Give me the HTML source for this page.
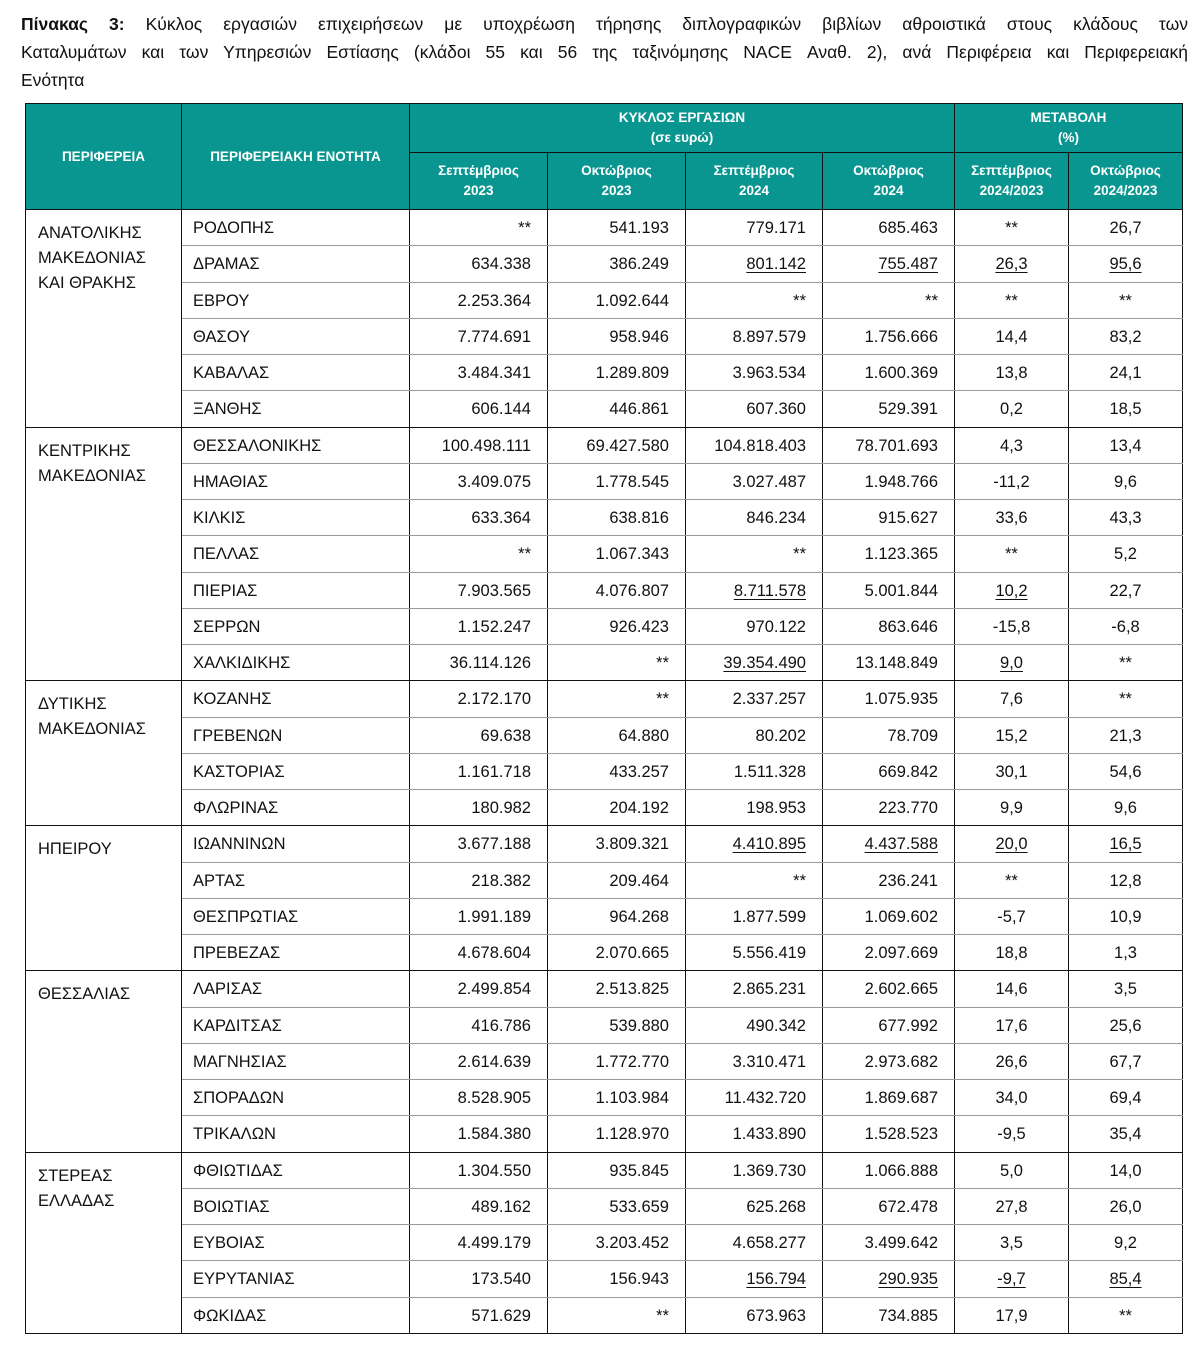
<!DOCTYPE html>
<html><head><meta charset="utf-8">
<style>
body{margin:0;background:#fff;width:1200px;height:1350px;overflow:hidden;font-family:"Liberation Sans","DejaVu Sans",sans-serif;color:#111;}
.title{position:absolute;left:21px;top:10px;width:1167px;font-size:17.5px;line-height:28px;}
.title div{text-align:justify;text-align-last:justify;white-space:nowrap;overflow:visible}
.title div.last{text-align-last:left}
table{position:absolute;left:25px;top:103px;border-collapse:collapse;table-layout:fixed;font-size:16.5px;}
th{background:#0a9690;color:#fff;font-size:13.5px;font-weight:bold;border:1.5px solid #111;padding:0;line-height:20px;}
td{border-left:1.5px solid #111;border-right:1.5px solid #111;border-top:1.5px solid #9a9a9a;border-bottom:1.5px solid #9a9a9a;padding:2px 0 0 0;height:32px;white-space:nowrap;}
td.reg{vertical-align:top;padding:11px 0 0 12px;line-height:25px;white-space:nowrap;border-top:1.5px solid #111;border-bottom:1.5px solid #111;}
td.name{padding-left:11px;}
td.n{text-align:right;padding-right:16px;}
td.p{text-align:center;}
tr.first td{border-top:1.5px solid #111;}
tr.lastrow td{border-bottom:1.5px solid #111;}
u{text-underline-offset:3px}
</style></head><body>
<div class="title">
<div><b>Πίνακας 3:</b> Κύκλος εργασιών επιχειρήσεων με υποχρέωση τήρησης διπλογραφικών βιβλίων αθροιστικά στους κλάδους των</div>
<div>Καταλυμάτων και των Υπηρεσιών Εστίασης (κλάδοι 55 και 56 της ταξινόμησης NACE Αναθ. 2), ανά Περιφέρεια και Περιφερειακή</div>
<div class="last">Ενότητα</div>
</div>
<table id="tbl">
<colgroup><col style="width:156px"><col style="width:228px"><col style="width:138px"><col style="width:138px"><col style="width:137px"><col style="width:132px"><col style="width:114px"><col style="width:114px"></colgroup>
<thead>
<tr style="height:49px">
<th rowspan="2">ΠΕΡΙΦΕΡΕΙΑ</th>
<th rowspan="2">ΠΕΡΙΦΕΡΕΙΑΚΗ ΕΝΟΤΗΤΑ</th>
<th colspan="4">ΚΥΚΛΟΣ ΕΡΓΑΣΙΩΝ<br>(σε ευρώ)</th>
<th colspan="2">ΜΕΤΑΒΟΛΗ<br>(%)</th>
</tr>
<tr style="height:57px">
<th>Σεπτέμβριος<br>2023</th>
<th>Οκτώβριος<br>2023</th>
<th>Σεπτέμβριος<br>2024</th>
<th>Οκτώβριος<br>2024</th>
<th>Σεπτέμβριος<br>2024/2023</th>
<th>Οκτώβριος<br>2024/2023</th>
</tr>
</thead>
<tbody id="tb"></tbody>
</table>
<script>
const regions=[["ΑΝΑΤΟΛΙΚΗΣ|ΜΑΚΕΔΟΝΙΑΣ|ΚΑΙ ΘΡΑΚΗΣ",6],["ΚΕΝΤΡΙΚΗΣ|ΜΑΚΕΔΟΝΙΑΣ",7],["ΔΥΤΙΚΗΣ|ΜΑΚΕΔΟΝΙΑΣ",4],["ΗΠΕΙΡΟΥ",4],["ΘΕΣΣΑΛΙΑΣ",5],["ΣΤΕΡΕΑΣ|ΕΛΛΑΔΑΣ",5]];
const units=["ΡΟΔΟΠΗΣ","ΔΡΑΜΑΣ","ΕΒΡΟΥ","ΘΑΣΟΥ","ΚΑΒΑΛΑΣ","ΞΑΝΘΗΣ","ΘΕΣΣΑΛΟΝΙΚΗΣ","ΗΜΑΘΙΑΣ","ΚΙΛΚΙΣ","ΠΕΛΛΑΣ","ΠΙΕΡΙΑΣ","ΣΕΡΡΩΝ","ΧΑΛΚΙΔΙΚΗΣ","ΚΟΖΑΝΗΣ","ΓΡΕΒΕΝΩΝ","ΚΑΣΤΟΡΙΑΣ","ΦΛΩΡΙΝΑΣ","ΙΩΑΝΝΙΝΩΝ","ΑΡΤΑΣ","ΘΕΣΠΡΩΤΙΑΣ","ΠΡΕΒΕΖΑΣ","ΛΑΡΙΣΑΣ","ΚΑΡΔΙΤΣΑΣ","ΜΑΓΝΗΣΙΑΣ","ΣΠΟΡΑΔΩΝ","ΤΡΙΚΑΛΩΝ","ΦΘΙΩΤΙΔΑΣ","ΒΟΙΩΤΙΑΣ","ΕΥΒΟΙΑΣ","ΕΥΡΥΤΑΝΙΑΣ","ΦΩΚΙΔΑΣ"];
const sep2023=["**","634.338","2.253.364","7.774.691","3.484.341","606.144","100.498.111","3.409.075","633.364","**","7.903.565","1.152.247","36.114.126","2.172.170","69.638","1.161.718","180.982","3.677.188","218.382","1.991.189","4.678.604","2.499.854","416.786","2.614.639","8.528.905","1.584.380","1.304.550","489.162","4.499.179","173.540","571.629"];
const oct2023=["541.193","386.249","1.092.644","958.946","1.289.809","446.861","69.427.580","1.778.545","638.816","1.067.343","4.076.807","926.423","**","**","64.880","433.257","204.192","3.809.321","209.464","964.268","2.070.665","2.513.825","539.880","1.772.770","1.103.984","1.128.970","935.845","533.659","3.203.452","156.943","**"];
const sep2024=["779.171","_801.142","**","8.897.579","3.963.534","607.360","104.818.403","3.027.487","846.234","**","_8.711.578","970.122","_39.354.490","2.337.257","80.202","1.511.328","198.953","_4.410.895","**","1.877.599","5.556.419","2.865.231","490.342","3.310.471","11.432.720","1.433.890","1.369.730","625.268","4.658.277","_156.794","673.963"];
const oct2024=["685.463","_755.487","**","1.756.666","1.600.369","529.391","78.701.693","1.948.766","915.627","1.123.365","5.001.844","863.646","13.148.849","1.075.935","78.709","669.842","223.770","_4.437.588","236.241","1.069.602","2.097.669","2.602.665","677.992","2.973.682","1.869.687","1.528.523","1.066.888","672.478","3.499.642","_290.935","734.885"];
const chgSep=["**","_26,3","**","14,4","13,8","0,2","4,3","-11,2","33,6","**","_10,2","-15,8","_9,0","7,6","15,2","30,1","9,9","_20,0","**","-5,7","18,8","14,6","17,6","26,6","34,0","-9,5","5,0","27,8","3,5","_-9,7","17,9"];
const chgOct=["26,7","_95,6","**","83,2","24,1","18,5","13,4","9,6","43,3","5,2","22,7","-6,8","**","**","21,3","54,6","9,6","_16,5","12,8","10,9","1,3","3,5","25,6","67,7","69,4","35,4","14,0","26,0","9,2","_85,4","**"];
const tb=document.getElementById('tb');
function cell(tr,v,cls,name){
  const td=document.createElement('td');td.className=cls;
  
  
  if(v.startsWith('_')){const u=document.createElement('u');u.textContent=v.slice(1);td.appendChild(u);}else td.textContent=v;
  tr.appendChild(td);
}
let i=0;
regions.forEach((r,ri)=>{
  for(let k=0;k<r[1];k++,i++){
    const tr=document.createElement('tr');
    tr.style.height=(1124/31)+'px';
    
    
    if(k===0)tr.className='first';
    if(k===r[1]-1)tr.className+=' lastrow';
    if(k===0){
      const td=document.createElement('td');td.className='reg';td.rowSpan=r[1];
      td.innerHTML=r[0].split('|').join('<br>');
      
      
      tr.appendChild(td);
    }
    cell(tr,units[i],'name','unit-name');
    cell(tr,sep2023[i],'n','sep-2023-value');
    cell(tr,oct2023[i],'n','oct-2023-value');
    cell(tr,sep2024[i],'n','sep-2024-value');
    cell(tr,oct2024[i],'n','oct-2024-value');
    cell(tr,chgSep[i],'p','sep-change-value');
    cell(tr,chgOct[i],'p','oct-change-value');
    tb.appendChild(tr);
  }
});
</script>
</body></html>
